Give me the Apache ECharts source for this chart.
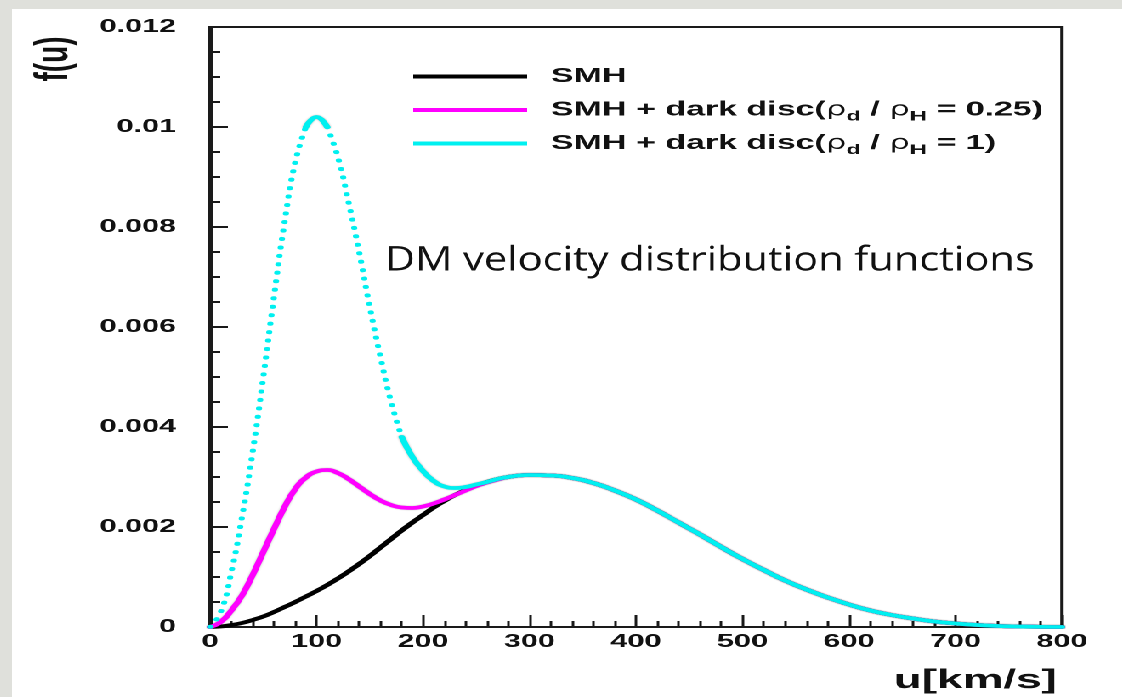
<!DOCTYPE html>
<html>
<head>
<meta charset="utf-8">
<script src="https://cdn.jsdelivr.net/npm/echarts@6/dist/echarts.min.js"></script>
<style>
  html, body { margin: 0; padding: 0; width: 1122px; height: 697px; overflow: hidden; background: #dfe0db; }
  /* the plot is laid out narrow and widened horizontally */
  #chart { position: absolute; left: 12px; top: 9px; width: 653px; height: 688px;
           transform: scaleX(1.7); transform-origin: 0 0; background: #fff; }
</style>
</head>
<body>
<div id="chart"></div>
<script>
// horizontal widening factor applied to the chart box
const STRETCH = 1.7;

// velocity grid u [km/s]
const uValues = [
  0, 10, 20, 30, 40, 50, 60, 70, 80, 90, 100, 110, 120, 130, 140, 150, 160, 170, 180, 190,
  200, 210, 220, 230, 240, 250, 260, 270, 280, 290, 300,
  320, 340, 360, 380, 400, 420, 440, 460, 480, 500, 520, 540, 560, 580, 600,
  620, 640, 660, 680, 700, 720, 740, 760, 780, 800
];

// standard halo model
const smhValues = [
  0, 0.00001, 0.00004, 0.00008, 0.00014, 0.00021, 0.00030, 0.00040, 0.00050, 0.00061,
  0.00072, 0.00084, 0.00097, 0.00111, 0.00126, 0.00142, 0.00159, 0.00176, 0.00193, 0.00209,
  0.00224, 0.00239, 0.00252, 0.00264, 0.00274, 0.00283, 0.00290, 0.00296, 0.00300, 0.00303, 0.00304,
  0.00303, 0.00298, 0.00288, 0.00273, 0.00255, 0.00233, 0.00209, 0.00185, 0.00160, 0.00136,
  0.00114, 0.00093, 0.00075, 0.00059, 0.00045, 0.00033, 0.00024, 0.00017, 0.00011, 0.00007,
  0.00004, 0.00002, 0.00001, 0.000003, 0
];

// halo + dark disc, rho_d / rho_H = 0.25
const disc025Values = [
  0, 0.00010, 0.00033, 0.00063, 0.00104, 0.00150, 0.00196, 0.00240, 0.00276, 0.00299,
  0.00311, 0.00314, 0.00308, 0.00296, 0.00281, 0.00266, 0.00253, 0.00244, 0.00239, 0.00238,
  0.00241, 0.00247, 0.00255, 0.00264, 0.00273, 0.00282, 0.00289, 0.00295, 0.00300, 0.00303, 0.00304,
  0.00303, 0.00298, 0.00288, 0.00273, 0.00255, 0.00233, 0.00209, 0.00185, 0.00160, 0.00136,
  0.00114, 0.00093, 0.00075, 0.00059, 0.00045, 0.00033, 0.00024, 0.00017, 0.00011, 0.00007,
  0.00004, 0.00002, 0.00001, 0.000003, 0
];

// halo + dark disc, rho_d / rho_H = 1
const disc1Values = [
  0, 0.0003, 0.0011, 0.0022, 0.0035, 0.0050, 0.0066, 0.0081, 0.0093, 0.0100,
  0.0102, 0.0100, 0.0094, 0.0085, 0.0075, 0.0064, 0.0054, 0.0045, 0.0038, 0.0034,
  0.00312, 0.00292, 0.00281, 0.00278, 0.00280, 0.00285, 0.00290, 0.00296, 0.00300, 0.00303, 0.00304,
  0.00303, 0.00298, 0.00288, 0.00273, 0.00255, 0.00233, 0.00209, 0.00185, 0.00160, 0.00136,
  0.00114, 0.00093, 0.00075, 0.00059, 0.00045, 0.00033, 0.00024, 0.00017, 0.00011, 0.00007,
  0.00004, 0.00002, 0.00001, 0.000003, 0
];

const xTickLabels = ['0', '100', '200', '300', '400', '500', '600', '700', '800'];
const yTickLabels = ['0', '0.002', '0.004', '0.006', '0.008', '0.01', '0.012'];

const seriesNames = [
  'SMH',
  'SMH + dark disc(ρd / ρH = 0.25)',
  'SMH + dark disc(ρd / ρH = 1)'
];
const legendRich = {
  'SMH': 'SMH',
  'SMH + dark disc(ρd / ρH = 0.25)': 'SMH + dark disc({rho|ρ}{sub|d} / {rho|ρ}{sub|H} = 0.25)',
  'SMH + dark disc(ρd / ρH = 1)': 'SMH + dark disc({rho|ρ}{sub|d} / {rho|ρ}{sub|H} = 1)'
};

const colors = ['#000000', '#ff00ff', '#00f0f0'];

function pairs(values, lo, hi) {
  const out = [];
  uValues.forEach((u, i) => { if (u >= lo && u <= hi) out.push([u, values[i]]); });
  return out;
}

const FONT = '"Liberation Sans", Arial, sans-serif';

function lineSeries(name, data, color, opts) {
  const o = opts || {};
  const lineStyle = o.dotted
    ? { color, width: 3.6, type: [0.5, 8], cap: 'round' }
    : { color, width: 3.8, cap: 'round', join: 'round' };
  if (o.edge && !o.dotted) {
    lineStyle.shadowColor = 'rgba(0,0,0,0.3)';
    lineStyle.shadowBlur = 1.5;
  }
  return {
    name, type: 'line', data, smooth: 0.5, symbol: 'none', z: o.z || 2,
    color, lineStyle,
    emphasis: { disabled: true }
  };
}

const chart = echarts.init(document.getElementById('chart'), null, { devicePixelRatio: 2 });

chart.setOption({
  animation: false,
  backgroundColor: '#ffffff',
  grid: {
    left: 116.5, right: 35.4, top: 18, bottom: 70,
    show: true, borderColor: '#1a1a1a', borderWidth: 2, backgroundColor: 'transparent'
  },
  xAxis: {
    type: 'value', min: 0, max: 800, interval: 100,
    name: 'u[km/s]', nameLocation: 'end', nameGap: -3,
    nameTextStyle: { fontFamily: FONT, fontWeight: 'bold', fontSize: 27, color: '#111',
                     align: 'right', verticalAlign: 'top', padding: [40, 0, 0, 0] },
    axisLine: { show: true, onZero: false, lineStyle: { color: '#1a1a1a', width: 2 } },
    axisTick: { show: true, inside: true, length: 12, lineStyle: { color: '#1a1a1a', width: 1.5 } },
    minorTick: { show: true, splitNumber: 5, length: 6, lineStyle: { color: '#1a1a1a', width: 1.5 } },
    splitLine: { show: false },
    axisLabel: { margin: 6, fontFamily: FONT, fontWeight: 'bold', fontSize: 18, color: '#111',
                 formatter: v => xTickLabels[Math.round(v / 100)], showMinLabel: true, showMaxLabel: true }
  },
  yAxis: {
    type: 'value', min: 0, max: 0.012, interval: 0.002,
    axisLine: { show: true, onZero: false, lineStyle: { color: '#1a1a1a', width: 2 } },
    axisTick: { show: true, inside: true, length: 10.5, lineStyle: { color: '#1a1a1a', width: 2 } },
    minorTick: { show: true, splitNumber: 4, length: 6, lineStyle: { color: '#1a1a1a', width: 2 } },
    splitLine: { show: false },
    axisLabel: { margin: 20, fontFamily: FONT, fontWeight: 'bold', fontSize: 18, color: '#111',
                 formatter: v => yTickLabels[Math.round(v / 0.002)], showMinLabel: true, showMaxLabel: true }
  },
  legend: {
    orient: 'vertical', left: 231, top: 49,
    icon: 'rect', itemWidth: 67, itemHeight: 4, itemGap: 6.5,
    data: seriesNames,
    selectedMode: false,
    formatter: name => '{g|}' + legendRich[name],
    textStyle: {
      fontFamily: FONT, fontWeight: 'bold', fontSize: 20, color: '#111', lineHeight: 27,
      rich: {
        g: { width: 9 },
        rho: { fontFamily: '"DejaVu Sans", sans-serif', fontWeight: 'normal', fontSize: 19, verticalAlign: 'middle' },
        sub: { fontFamily: FONT, fontWeight: 'bold', fontSize: 14, lineHeight: 14, verticalAlign: 'bottom' }
      }
    }
  },
  graphic: [
    {
      type: 'text', x: 25, y: 50, rotation: Math.PI / 2,
      style: { text: 'f(u)', font: 'bold 28px "Liberation Sans", Arial, sans-serif',
               fill: '#111', align: 'center', verticalAlign: 'middle' }
    },
    {
      type: 'text', x: (385 - 12) / STRETCH, y: 252, scaleX: 1.22 / STRETCH,
      style: { text: 'DM velocity distribution functions', font: '34px "Open Sans", sans-serif',
               fill: '#111', align: 'left', verticalAlign: 'middle' }
    }
  ],
  series: [
    lineSeries(seriesNames[0], pairs(smhValues, 0, 800), colors[0], { z: 2 }),
    lineSeries(seriesNames[1], pairs(disc025Values, 0, 800), colors[1], { z: 3, edge: true }),
    // the steep flanks of the tall curve are drawn as separate dots
    lineSeries(seriesNames[2], pairs(disc1Values, 90, 110), colors[2], { z: 4, edge: true }),
    lineSeries(seriesNames[2], pairs(disc1Values, 180, 800), colors[2], { z: 4, edge: true }),
    lineSeries(seriesNames[2], pairs(disc1Values, 0, 90), colors[2], { z: 4, dotted: true }),
    lineSeries(seriesNames[2], pairs(disc1Values, 110, 180), colors[2], { z: 4, dotted: true })
  ]
});
</script>
</body>
</html>
